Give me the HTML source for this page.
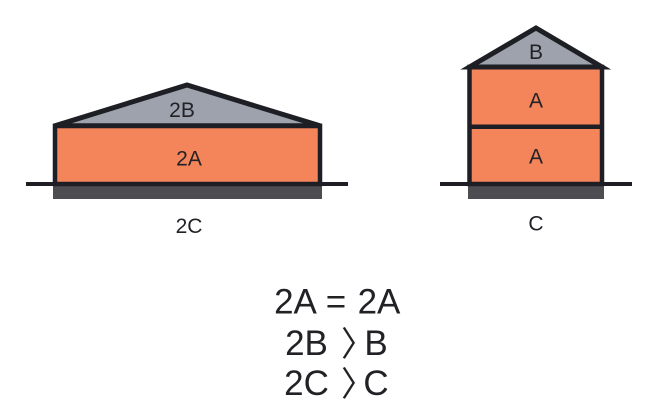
<!DOCTYPE html>
<html>
<head>
<meta charset="utf-8">
<style>
  html,body{margin:0;padding:0;background:#ffffff;}
  body{width:658px;height:412px;overflow:hidden;}
  svg{display:block;}
  text{font-family:"Liberation Sans", Arial, sans-serif; fill:#222226;}
  .br{font-family:"Noto Sans CJK SC", "Noto Sans CJK JP", sans-serif;}
</style>
</head>
<body>
<svg width="658" height="412" viewBox="0 0 658 412" xmlns="http://www.w3.org/2000/svg">
  <rect x="0" y="0" width="658" height="412" fill="#ffffff"/>

  <!-- LEFT BUILDING -->
  <rect x="53" y="184" width="269" height="15" fill="#4c4c51"/>
  <rect x="55" y="126" width="265" height="58" fill="#f4855b"/>
  <polygon points="55,125.8 187,85 320,125.8" fill="#9da2ad" stroke="#1e1f24" stroke-width="5" stroke-linejoin="miter"/>
  <rect x="55" y="125.8" width="265" height="58.2" fill="none" stroke="#1e1f24" stroke-width="4.5"/>
  <line x1="26" y1="184" x2="348" y2="184" stroke="#1e1f24" stroke-width="4"/>

  <text x="182" y="117" font-size="21" text-anchor="middle">2B</text>
  <text x="189" y="165.5" font-size="21" text-anchor="middle">2A</text>
  <text x="189" y="233" font-size="21" text-anchor="middle">2C</text>

  <!-- RIGHT BUILDING -->
  <rect x="468" y="184" width="136" height="15" fill="#4c4c51"/>
  <rect x="469.5" y="67" width="132.5" height="117" fill="#f4855b"/>
  <polygon points="469.5,67 536,28 602,67" fill="#9da2ad" stroke="#1e1f24" stroke-width="5" stroke-linejoin="miter"/>
  <rect x="469.5" y="67" width="132.5" height="117" fill="none" stroke="#1e1f24" stroke-width="4.5"/>
  <line x1="469.5" y1="126.7" x2="602" y2="126.7" stroke="#1e1f24" stroke-width="4.5"/>
  <line x1="440" y1="184" x2="632" y2="184" stroke="#1e1f24" stroke-width="4"/>

  <text x="536" y="59" font-size="21" text-anchor="middle">B</text>
  <text x="536" y="107.3" font-size="21" text-anchor="middle">A</text>
  <text x="536" y="163.3" font-size="21" text-anchor="middle">A</text>
  <text x="536" y="230.5" font-size="21" text-anchor="middle">C</text>

  <!-- EQUATIONS -->
  <text x="295.5" y="313.5" font-size="35" text-anchor="middle">2A</text>
  <text x="336" y="313.5" font-size="35" text-anchor="middle">=</text>
  <text x="379" y="313.5" font-size="35" text-anchor="middle">2A</text>

  <text x="306.5" y="355" font-size="35" text-anchor="middle">2B</text>
  <text class="br" x="358" y="356" font-size="34" text-anchor="middle">〉</text>
  <text x="376" y="355" font-size="35" text-anchor="middle">B</text>

  <text x="306.5" y="395" font-size="35" text-anchor="middle">2C</text>
  <text class="br" x="358" y="396" font-size="34" text-anchor="middle">〉</text>
  <text x="376" y="395" font-size="35" text-anchor="middle">C</text>
</svg>
</body>
</html>
